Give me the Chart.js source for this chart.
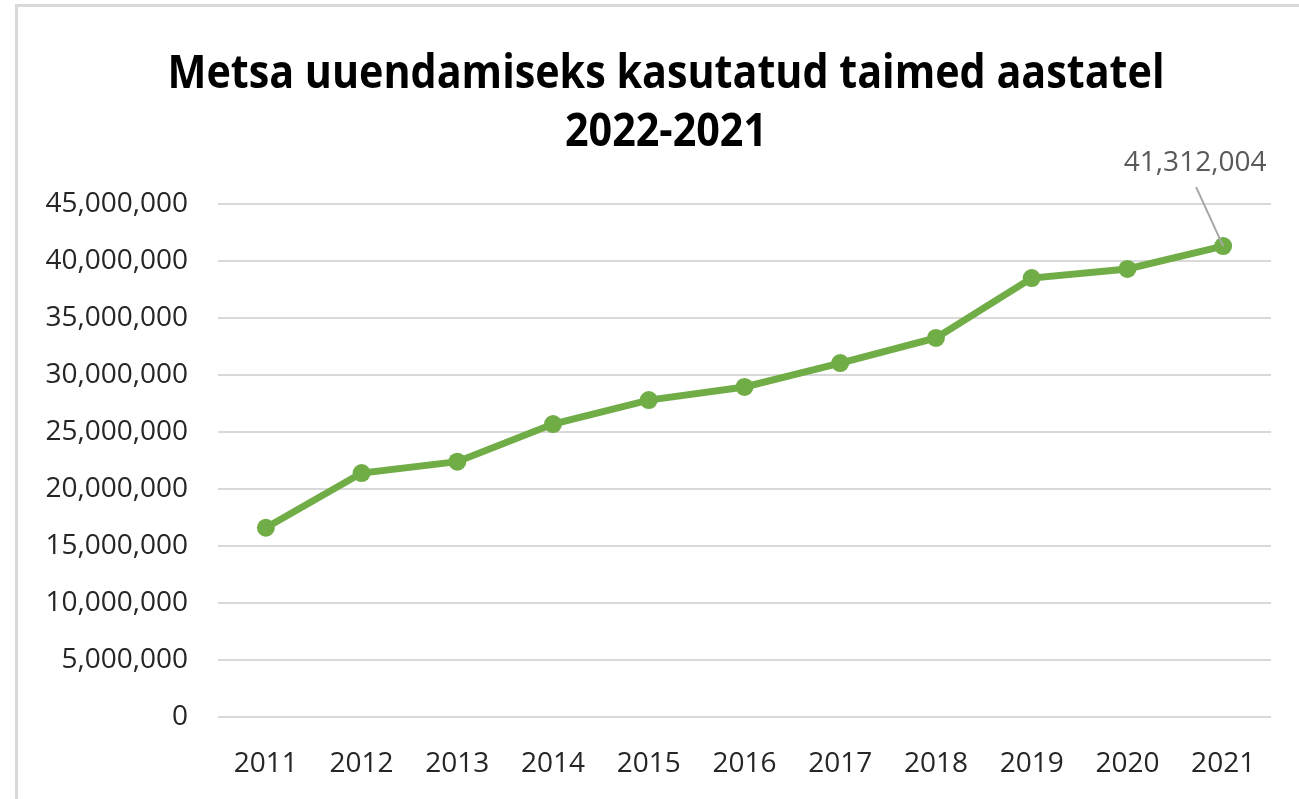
<!DOCTYPE html>
<html>
<head>
<meta charset="utf-8">
<script src="https://cdn.jsdelivr.net/npm/chart.js@4/dist/chart.umd.min.js"></script>
<style>
  html, body { margin: 0; padding: 0; background: #fff; }
  #wrap { position: absolute; left: 0; top: 0; width: 1299px; height: 799px; }
  #frame { position: absolute; left: 15px; top: 4px; right: -10px; bottom: -10px;
           border-top: 3px solid #d9d9d9; border-left: 3px solid #d9d9d9; }
  canvas { position: absolute; left: 0; top: 0; }
</style>
</head>
<body>
<div id="wrap">
  <div id="frame"></div>
  <canvas id="lineChart" width="1299" height="799"></canvas>
</div>
<script>
// data
const years = ['2011', '2012', '2013', '2014', '2015', '2016', '2017', '2018', '2019', '2020', '2021'];
const plants = [16600000, 21400000, 22400000, 25700000, 27800000, 28950000, 31050000, 33250000, 38500000, 39300000, 41312004];
const titleLines = ['Metsa uuendamiseks kasutatud taimed aastatel', '2022-2021'];

const fmt = v => Math.round(v).toLocaleString('en-US');

// title drawn by hand so the Calibri-like width can be matched
const titlePlugin = {
  id: 'twoLineTitle',
  afterDraw(chart) {
    const ctx = chart.ctx;
    ctx.save();
    ctx.font = 'bold 46px "Open Sans"';
    ctx.fillStyle = '#000';
    ctx.textAlign = 'center';
    ctx.textBaseline = 'alphabetic';
    const w = ctx.measureText(titleLines[0]).width;
    const sx = 997 / w;
    ctx.translate(666, 0);
    ctx.scale(sx, 1);
    ctx.fillText(titleLines[0], 0, 88);
    ctx.fillText(titleLines[1], 0, 146);
    ctx.restore();
  }
};

// label on the last point with its leader line
const lastLabel = {
  id: 'lastLabel',
  afterDatasetsDraw(chart) {
    const meta = chart.getDatasetMeta(0);
    const pt = meta.data[meta.data.length - 1];
    const ctx = chart.ctx;
    ctx.save();
    ctx.strokeStyle = '#a6a6a6';
    ctx.lineWidth = 2;
    ctx.beginPath();
    ctx.moveTo(pt.x - 27, pt.y - 59);
    ctx.lineTo(pt.x, pt.y);
    ctx.stroke();
    ctx.font = '28px "Open Sans"';
    ctx.fillStyle = '#595959';
    ctx.textAlign = 'center';
    ctx.textBaseline = 'middle';
    ctx.fillText(fmt(plants[plants.length - 1]), pt.x - 28, pt.y - 83);
    ctx.restore();
  }
};

const ctxLine = document.getElementById('lineChart').getContext('2d');
const lineChart = new Chart(ctxLine, {
  type: 'line',
  data: {
    labels: years,
    datasets: [{
      data: plants,
      borderColor: '#70ad47',
      backgroundColor: '#70ad47',
      borderWidth: 7,
      pointRadius: 9,
      pointBorderWidth: 0,
      tension: 0
    }]
  },
  options: {
    responsive: false,
    animation: false,
    layout: { padding: { top: 204, right: 28, left: 0, bottom: 0 } },
    plugins: {
      legend: { display: false },
      title: { display: false },
      tooltip: { enabled: false }
    },
    scales: {
      x: {
        offset: true,
        grid: { display: false },
        border: { display: false },
        ticks: { color: '#262626', font: { family: 'Open Sans', size: 28 }, padding: 22 },
        afterFit: s => { s.height = 82; }
      },
      y: {
        min: 0,
        max: 45000000,
        grid: { color: '#d9d9d9', lineWidth: 2, drawTicks: false },
        border: { display: false },
        ticks: {
          stepSize: 5000000,
          color: '#262626',
          font: { family: 'Open Sans', size: 28 },
          padding: 30,
          callback: v => fmt(v)
        },
        afterFit: s => { s.width = 218; }
      }
    }
  },
  plugins: [titlePlugin, lastLabel]
});
</script>
</body>
</html>
